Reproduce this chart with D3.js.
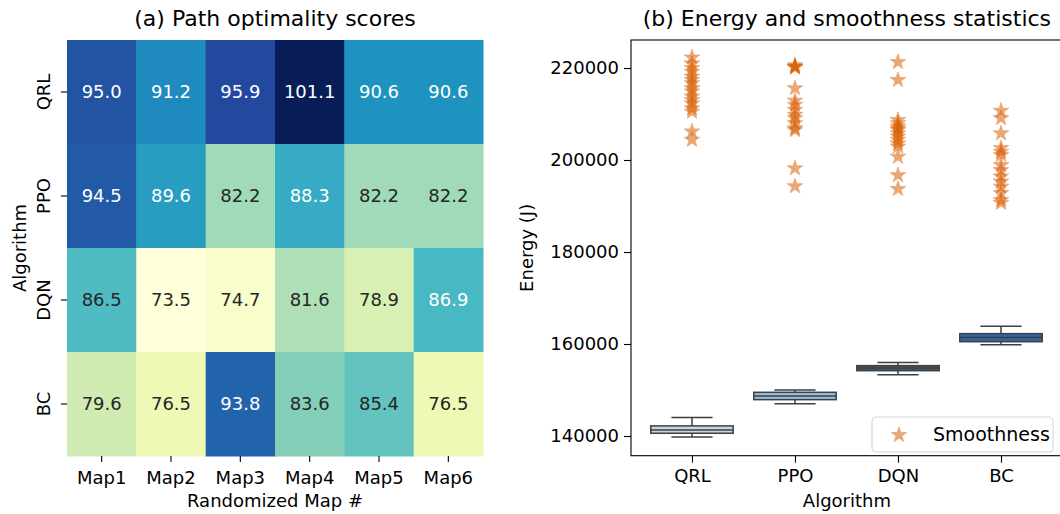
<!DOCTYPE html>
<html>
<head>
<meta charset="utf-8">
<script src="https://cdn.jsdelivr.net/npm/d3@7"></script>
<style>
  body { margin: 0; background: #fff; }
  text { font-family: "DejaVu Sans", sans-serif; fill: #000; }
</style>
</head>
<body>
<div id="chart"></div>
<script>
// Data
var maps = ["Map1", "Map2", "Map3", "Map4", "Map5", "Map6"];
var algorithms = ["QRL", "PPO", "DQN", "BC"];
var scoresQRL = [95.0, 91.2, 95.9, 101.1, 90.6, 90.6];
var scoresPPO = [94.5, 89.6, 82.2, 88.3, 82.2, 82.2];
var scoresDQN = [86.5, 73.5, 74.7, 81.6, 78.9, 86.9];
var scoresBC = [79.6, 76.5, 93.8, 83.6, 85.4, 76.5];

// box stats per algorithm (energy, J)
var whiskerLow = [139800, 147000, 153300, 159850];
var quart1 = [140600, 147900, 154200, 160500];
var medians = [141300, 148700, 154800, 161400];
var quart3 = [142200, 149500, 155300, 162250];
var whiskerHigh = [144000, 150000, 156000, 163850];
var boxColors = ["#c3d7e7", "#92bedb", "#3f5b72", "#2d6aa5"];

// smoothness points
var smoothQRL = [222300, 221000, 220000, 219200, 218100, 217400, 216700, 215600, 214900, 213800, 213000, 212300, 211200, 210500, 206200, 204400];
var smoothPPO = [220600, 220300, 220200, 220100, 215600, 212900, 212000, 210900, 209800, 209100, 208000, 206900, 206500, 198200, 194300];
var smoothDQN = [221300, 217400, 208700, 208000, 207300, 206800, 206500, 205800, 205100, 204400, 203600, 202900, 200700, 196700, 193700];
var smoothBC = [210700, 209100, 205800, 202600, 201800, 201100, 198900, 197800, 196400, 195300, 194200, 192800, 191300, 190700];

var scoreRows = [scoresQRL, scoresPPO, scoresDQN, scoresBC];
var smoothRows = [smoothQRL, smoothPPO, smoothDQN, smoothBC];

var svgWidth = 1060;
var svgHeight = 514;
var tickFont = "18px";

var svg = d3.select("#chart")
  .append("svg")
  .attr("width", svgWidth)
  .attr("height", svgHeight);

// ---------- (a) heatmap ----------
var heat = { left: 67, right: 483, top: 40, bottom: 456 };

var xBand = d3.scaleBand().domain(maps).range([heat.left, heat.right]);
var yBand = d3.scaleBand().domain(algorithms).range([heat.top, heat.bottom]);

var ylgnbu = ["#ffffd9", "#edf8b1", "#c7e9b4", "#7fcdbb", "#41b6c4", "#1d91c0", "#225ea8", "#253494", "#081d58"];
var allScores = d3.merge(scoreRows);
var sMin = d3.min(allScores), sMax = d3.max(allScores);
var colorScale = d3.scaleLinear()
  .domain(ylgnbu.map((c, i) => sMin + (sMax - sMin) * i / (ylgnbu.length - 1)))
  .range(ylgnbu)
  .interpolate(d3.interpolateRgb);

function luminance(c) {
  var rgb = d3.rgb(c);
  var f = v => { v = v / 255; return v <= 0.03928 ? v / 12.92 : Math.pow((v + 0.055) / 1.055, 2.4); };
  return 0.2126 * f(rgb.r) + 0.7152 * f(rgb.g) + 0.0722 * f(rgb.b);
}

var cells = [];
algorithms.forEach(function(a, i) {
  maps.forEach(function(m, j) {
    cells.push({ algo: a, map: m, value: scoreRows[i][j] });
  });
});

var heatGroup = svg.append("g");
heatGroup.selectAll("rect")
  .data(cells)
  .enter()
  .append("rect")
  .attr("x", d => xBand(d.map))
  .attr("y", d => yBand(d.algo))
  .attr("width", xBand.bandwidth() + 0.5)
  .attr("height", yBand.bandwidth() + 0.5)
  .attr("fill", d => colorScale(d.value));

heatGroup.selectAll("text.annot")
  .data(cells)
  .enter()
  .append("text")
  .attr("class", "annot")
  .attr("x", d => xBand(d.map) + xBand.bandwidth() / 2)
  .attr("y", d => yBand(d.algo) + yBand.bandwidth() / 2)
  .attr("dy", "0.36em")
  .attr("text-anchor", "middle")
  .style("font-size", tickFont)
  .style("fill", d => luminance(colorScale(d.value)) > 0.408 ? "#262626" : "#ffffff")
  .text(d => d.value.toFixed(1));

// heatmap axes
var heatX = svg.append("g")
  .attr("transform", `translate(0, ${heat.bottom})`)
  .call(d3.axisBottom(xBand).tickSize(6).tickPadding(5));
var heatY = svg.append("g")
  .attr("transform", `translate(${heat.left}, 0)`)
  .call(d3.axisLeft(yBand).tickSize(6).tickPadding(5));
[heatX, heatY].forEach(function(ax) {
  ax.select(".domain").remove();
  ax.selectAll("line").attr("stroke", "#000").attr("stroke-width", 1.1);
  ax.selectAll("text").style("font-size", tickFont).attr("fill", "#000");
});
heatX.selectAll("text").attr("dy", "0.95em");
heatY.selectAll("text")
  .attr("x", null)
  .attr("dy", null)
  .attr("text-anchor", "middle")
  .attr("transform", "translate(-17, 0) rotate(-90)");

svg.append("text")
  .attr("x", (heat.left + heat.right) / 2)
  .attr("y", 26)
  .attr("text-anchor", "middle")
  .style("font-size", "22px")
  .text("(a) Path optimality scores");

svg.append("text")
  .attr("x", (heat.left + heat.right) / 2)
  .attr("y", 507)
  .attr("text-anchor", "middle")
  .style("font-size", tickFont)
  .text("Randomized Map #");

svg.append("text")
  .attr("transform", `translate(26, ${(heat.top + heat.bottom) / 2}) rotate(-90)`)
  .attr("text-anchor", "middle")
  .style("font-size", tickFont)
  .text("Algorithm");

// ---------- (b) energy / smoothness ----------
var plot = { left: 631, right: 1062.8, top: 40, bottom: 455.7 };

var xIdx = d3.scaleLinear().domain([-0.592, 3.6]).range([plot.left, plot.right]);
var yEnergy = d3.scaleLinear().domain([135717, 226090]).range([plot.bottom, plot.top]);

var boxWidth = xIdx(0.8) - xIdx(0);

// frame
svg.append("rect")
  .attr("x", plot.left)
  .attr("y", plot.top)
  .attr("width", plot.right - plot.left)
  .attr("height", plot.bottom - plot.top)
  .attr("fill", "none")
  .attr("stroke", "#000")
  .attr("stroke-width", 1.1);

var yAxisG = svg.append("g")
  .attr("transform", `translate(${plot.left}, 0)`)
  .call(d3.axisLeft(yEnergy).tickValues([140000, 160000, 180000, 200000, 220000]).tickFormat(d3.format("d")).tickSize(7).tickPadding(5));
var xAxisG = svg.append("g")
  .attr("transform", `translate(0, ${plot.bottom})`)
  .call(d3.axisBottom(xIdx).tickValues([0, 1, 2, 3]).tickFormat(i => algorithms[i]).tickSize(7).tickPadding(5));
[xAxisG, yAxisG].forEach(function(ax) {
  ax.select(".domain").remove();
  ax.selectAll("line").attr("stroke", "#000").attr("stroke-width", 1.1);
  ax.selectAll("text").style("font-size", tickFont).attr("fill", "#000");
});
xAxisG.selectAll("text").attr("dy", "0.8em");

// boxes
var boxes = svg.append("g").selectAll("g")
  .data(algorithms)
  .enter()
  .append("g");

boxes.each(function(a, i) {
  var g = d3.select(this);
  var cx = xIdx(i);
  var stroke = "#3f3f3f";
  g.append("line")
    .attr("x1", cx).attr("x2", cx)
    .attr("y1", yEnergy(whiskerHigh[i])).attr("y2", yEnergy(quart3[i]))
    .attr("stroke", stroke).attr("stroke-width", 1.5);
  g.append("line")
    .attr("x1", cx).attr("x2", cx)
    .attr("y1", yEnergy(quart1[i])).attr("y2", yEnergy(whiskerLow[i]))
    .attr("stroke", stroke).attr("stroke-width", 1.5);
  [whiskerHigh[i], whiskerLow[i]].forEach(function(v) {
    g.append("line")
      .attr("x1", cx - boxWidth / 4).attr("x2", cx + boxWidth / 4)
      .attr("y1", yEnergy(v)).attr("y2", yEnergy(v))
      .attr("stroke", stroke).attr("stroke-width", 1.5);
  });
  g.append("rect")
    .attr("x", cx - boxWidth / 2)
    .attr("y", yEnergy(quart3[i]))
    .attr("width", boxWidth)
    .attr("height", yEnergy(quart1[i]) - yEnergy(quart3[i]))
    .attr("fill", boxColors[i])
    .attr("stroke", stroke).attr("stroke-width", 1.5);
  g.append("line")
    .attr("x1", cx - boxWidth / 2).attr("x2", cx + boxWidth / 2)
    .attr("y1", yEnergy(medians[i])).attr("y2", yEnergy(medians[i]))
    .attr("stroke", stroke).attr("stroke-width", 1.5);
});

// stars
var starPath = d3.symbol().type(d3.symbolStar).size(75);
var starColor = "#d95f02";
var points = [];
smoothRows.forEach(function(row, i) {
  row.forEach(function(v) { points.push({ i: i, v: v }); });
});
svg.append("g").selectAll("path")
  .data(points)
  .enter()
  .append("path")
  .attr("d", starPath)
  .attr("transform", d => `translate(${xIdx(d.i)}, ${yEnergy(d.v)})`)
  .attr("fill", starColor)
  .attr("stroke", starColor)
  .attr("stroke-width", 0.8)
  .attr("opacity", 0.55);

// legend
var legend = svg.append("g");
legend.append("rect")
  .attr("x", 872).attr("y", 417)
  .attr("width", 181).attr("height", 35)
  .attr("rx", 4)
  .attr("fill", "#fff").attr("fill-opacity", 0.8)
  .attr("stroke", "#d6d6d6").attr("stroke-width", 1.1);
legend.append("path")
  .attr("d", starPath)
  .attr("transform", "translate(899, 435)")
  .attr("fill", starColor)
  .attr("stroke", starColor)
  .attr("stroke-width", 0.8)
  .attr("opacity", 0.55);
legend.append("text")
  .attr("x", 933).attr("y", 441)
  .style("font-size", "19px")
  .text("Smoothness");

svg.append("text")
  .attr("x", (plot.left + plot.right) / 2)
  .attr("y", 26)
  .attr("text-anchor", "middle")
  .style("font-size", "22px")
  .text("(b) Energy and smoothness statistics");

svg.append("text")
  .attr("x", (plot.left + plot.right) / 2)
  .attr("y", 507)
  .attr("text-anchor", "middle")
  .style("font-size", tickFont)
  .text("Algorithm");

svg.append("text")
  .attr("transform", `translate(533, ${(plot.top + plot.bottom) / 2}) rotate(-90)`)
  .attr("text-anchor", "middle")
  .style("font-size", tickFont)
  .text("Energy (J)");
</script>
</body>
</html>
